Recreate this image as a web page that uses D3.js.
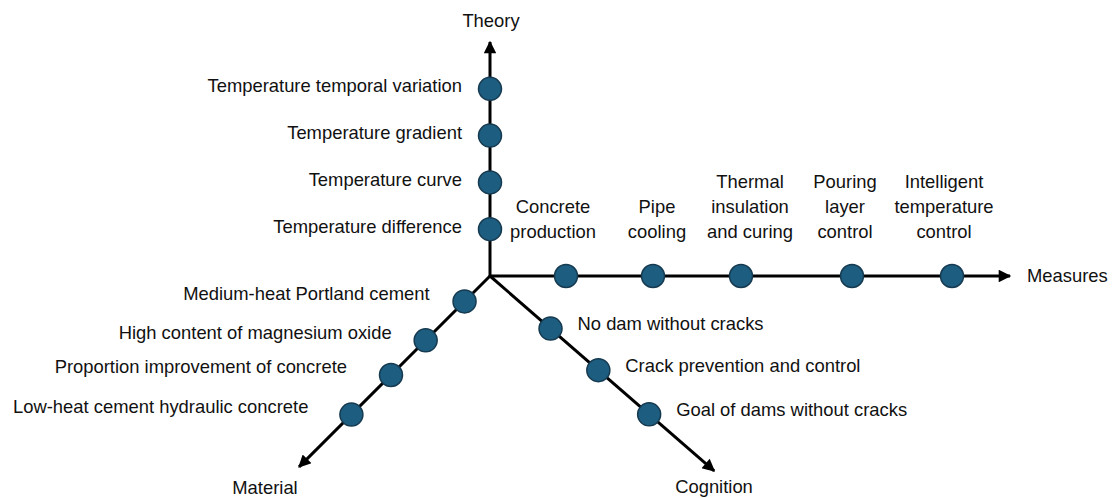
<!DOCTYPE html>
<html>
<head>
<meta charset="utf-8">
<script src="https://cdn.jsdelivr.net/npm/d3@7"></script>
<style>
  body { margin: 0; background: #fff; }
  text { font-family: "Liberation Sans", Arial, sans-serif; font-size: 18.4px; fill: #111; }
</style>
</head>
<body>
<svg id="chart" width="1113" height="498"></svg>
<script>
// axis names
const axisNames = ['Theory', 'Measures', 'Material', 'Cognition'];

// items on each axis, and where they sit along it
const theoryItems = ['Temperature difference', 'Temperature curve', 'Temperature gradient', 'Temperature temporal variation'];
const theoryPos = [1, 2, 3, 4];

const measureItems = [
  ['Concrete', 'production'],
  ['Pipe', 'cooling'],
  ['Thermal', 'insulation', 'and curing'],
  ['Pouring', 'layer', 'control'],
  ['Intelligent', 'temperature', 'control']
];
const measurePos = [0.76, 1.63, 2.51, 3.62, 4.62];

const materialItems = ['Medium-heat Portland cement', 'High content of magnesium oxide', 'Proportion improvement of concrete', 'Low-heat cement hydraulic concrete'];
const materialPos = [0.36, 0.91, 1.4, 1.96];

const cognitionItems = ['No dam without cracks', 'Crack prevention and control', 'Goal of dams without cracks'];
const cognitionPos = [0.81, 1.45, 2.13];

// ---- layout ----
const svg = d3.select('#chart');
const origin = [490, 276];
const fill = '#1d5d80', edge = '#163a50';

// each axis: angle (deg, screen coords) and a scale from position to pixels
const axes = {
  Theory:    { angle: -90, scale: d3.scaleLinear().domain([0, 5]).range([0, 234]) },
  Measures:  { angle: 0,   scale: d3.scaleLinear().domain([0, 5.2]).range([0, 520]) },
  Material:  { angle: 135, scale: d3.scaleLinear().domain([0, 2.7]).range([0, 270]) },
  Cognition: { angle: 41,  scale: d3.scaleLinear().domain([0, 3]).range([0, 297]) }
};

const at = (name, v) => {
  const a = axes[name], r = a.scale(v), t = a.angle * Math.PI / 180;
  return [origin[0] + r * Math.cos(t), origin[1] + r * Math.sin(t)];
};

svg.append('defs').append('marker')
  .attr('id', 'arrow')
  .attr('viewBox', '0 0 10 10')
  .attr('refX', 9).attr('refY', 5)
  .attr('markerWidth', 4.6).attr('markerHeight', 4.2)
  .attr('markerUnits', 'strokeWidth')
  .attr('orient', 'auto')
  .append('path').attr('d', 'M0,0 L10,5 L0,10 Z').attr('fill', '#000');

// axis lines
axisNames.forEach((name) => {
  const end = at(name, axes[name].scale.domain()[1]);
  svg.append('line')
    .attr('x1', origin[0]).attr('y1', origin[1])
    .attr('x2', end[0]).attr('y2', end[1])
    .attr('stroke', '#000').attr('stroke-width', 3)
    .attr('marker-end', 'url(#arrow)');
});

// axis titles
const titles = svg.append('g');
titles.append('text').attr('x', 491).attr('y', 21).attr('dy', '0.35em').attr('text-anchor', 'middle').text('Theory');
titles.append('text').attr('x', 1027).attr('y', 276).attr('dy', '0.35em').text('Measures');
titles.append('text').attr('x', 265).attr('y', 488).attr('dy', '0.35em').attr('text-anchor', 'middle').text('Material');
titles.append('text').attr('x', 714).attr('y', 487).attr('dy', '0.35em').attr('text-anchor', 'middle').text('Cognition');

const dot = (p) => svg.append('circle')
  .attr('cx', p[0]).attr('cy', p[1]).attr('r', 11.5)
  .attr('fill', fill).attr('stroke', edge).attr('stroke-width', 1.5);

// Theory
theoryItems.forEach((label, i) => {
  const p = at('Theory', theoryPos[i]);
  dot(p);
  svg.append('text').attr('x', p[0] - 28).attr('y', p[1] - 3).attr('dy', '0.35em')
    .attr('text-anchor', 'end').text(label);
});

// Measures
const measureNudge = [-13, 4, 9, -7, -8];
measureItems.forEach((lines, i) => {
  const p = at('Measures', measurePos[i]);
  dot(p);
  const t = svg.append('text').attr('text-anchor', 'middle');
  lines.forEach((ln, j) => {
    t.append('tspan')
      .attr('x', p[0] + measureNudge[i])
      .attr('y', p[1] - 44 - (lines.length - 1 - j) * 25)
      .attr('dy', '0.35em')
      .text(ln);
  });
});

// Material
const materialNudge = [4, 5, -5, -4];
materialItems.forEach((label, i) => {
  const p = at('Material', materialPos[i]);
  dot(p);
  svg.append('text').attr('x', p[0] - 39 + materialNudge[i]).attr('y', p[1] - 8).attr('dy', '0.35em')
    .attr('text-anchor', 'end').text(label);
});

// Cognition
cognitionItems.forEach((label, i) => {
  const p = at('Cognition', cognitionPos[i]);
  dot(p);
  svg.append('text').attr('x', p[0] + 27).attr('y', p[1] - 5).attr('dy', '0.35em').text(label);
});
</script>
</body>
</html>
